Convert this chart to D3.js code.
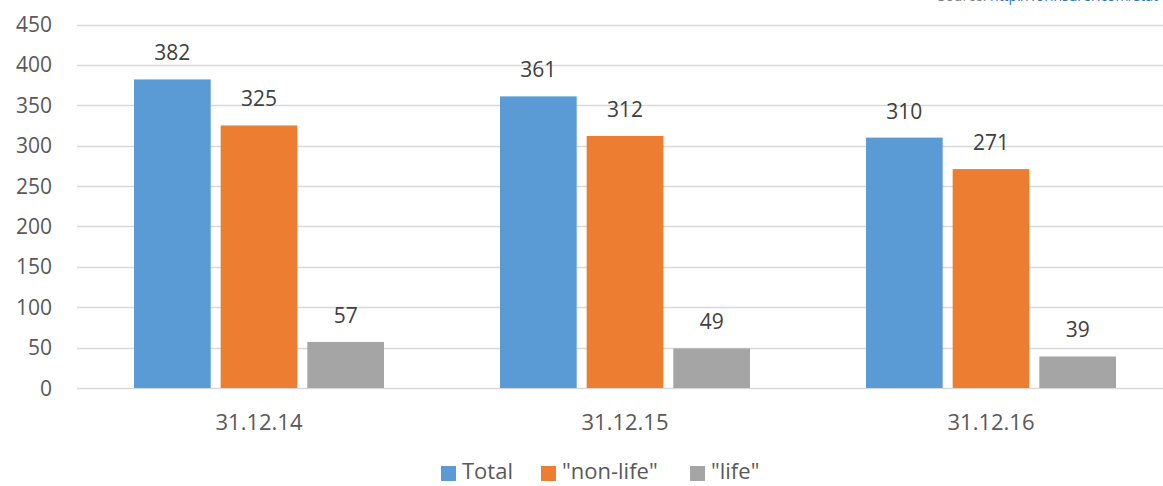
<!DOCTYPE html>
<html>
<head>
    <meta charset="UTF-8">
    <title>Insurers</title>
    <script src="https://d3js.org/d3.v7.min.js"></script>
    <style>
        body { margin: 0; background: #fff; }
        svg { display: block; font-family: "Open Sans", sans-serif; }
        .grid line { stroke: #d9d9d9; stroke-width: 1.3px; }
        .axis-label { font-size: 21px; fill: #595959; }
        .x-label { font-size: 22px; fill: #595959; }
        .value-label { font-size: 21px; fill: #404040; }
        .legend text { font-size: 22px; fill: #595959; }
    </style>
</head>
<body>
<div id="chart"></div>
<script>
    // данные
    const categories = ["31.12.14", "31.12.15", "31.12.16"];
    const seriesNames = ["Total", "\"non-life\"", "\"life\""];
    const totalValues = [382, 361, 310];
    const nonLifeValues = [325, 312, 271];
    const lifeValues = [57, 49, 39];
    const yTicks = [0, 50, 100, 150, 200, 250, 300, 350, 400, 450];
    const colors = ["#5b9bd5", "#ed7d31", "#a5a5a5"];

    const width = 1163, height = 486;
    const series = [totalValues, nonLifeValues, lifeValues];

    const svg = d3.select("#chart").append("svg")
        .attr("width", width)
        .attr("height", height);

    const x0 = d3.scaleBand()
        .domain(categories)
        .range([76, 1174])
        .paddingInner(0)
        .paddingOuter(0);

    const x1 = d3.scaleBand()
        .domain(d3.range(seriesNames.length))
        .range([58, x0.bandwidth() - 58])
        .paddingInner(0.115);

    const y = d3.scaleLinear()
        .domain([0, 450])
        .range([388, 24.5]);

    // сетка
    svg.append("g").attr("class", "grid")
        .selectAll("line")
        .data(yTicks)
        .join("line")
        .attr("x1", 77)
        .attr("x2", width)
        .attr("y1", d => Math.round(y(d)) + 0.5)
        .attr("y2", d => Math.round(y(d)) + 0.5);

    // подписи оси Y
    svg.append("g")
        .selectAll("text")
        .data(yTicks)
        .join("text")
        .attr("class", "axis-label")
        .attr("x", 52)
        .attr("y", d => y(d))
        .attr("dy", "0.36em")
        .attr("text-anchor", "end")
        .text(d => d);

    // столбцы
    const groups = svg.append("g")
        .selectAll("g")
        .data(categories)
        .join("g")
        .attr("transform", d => `translate(${x0(d)},0)`);

    groups.selectAll("rect")
        .data((d, i) => series.map((s, k) => ({k, v: s[i]})))
        .join("rect")
        .attr("x", d => x1(d.k))
        .attr("width", x1.bandwidth())
        .attr("y", d => y(d.v))
        .attr("height", d => y(0) - y(d.v))
        .attr("fill", d => colors[d.k]);

    groups.selectAll("text.value-label")
        .data((d, i) => series.map((s, k) => ({k, v: s[i]})))
        .join("text")
        .attr("class", "value-label")
        .attr("x", d => x1(d.k) + x1.bandwidth() / 2)
        .attr("y", d => y(d.v) - 19)
        .attr("text-anchor", "middle")
        .text(d => d.v);

    // подписи оси X
    svg.append("g")
        .selectAll("text")
        .data(categories)
        .join("text")
        .attr("class", "x-label")
        .attr("x", d => x0(d) + x0.bandwidth() / 2)
        .attr("y", 430)
        .attr("text-anchor", "middle")
        .text(d => d);

    // легенда
    const legendX = [441, 541, 690];
    const legend = svg.append("g").attr("class", "legend")
        .selectAll("g")
        .data(seriesNames)
        .join("g")
        .attr("transform", (d, i) => `translate(${legendX[i]},0)`);

    legend.append("rect")
        .attr("y", 466)
        .attr("width", 15)
        .attr("height", 15)
        .attr("fill", (d, i) => colors[i]);

    legend.append("text")
        .attr("x", 21)
        .attr("y", 479)
        .text(d => d);

    // источник (обрезан сверху)
    const src = svg.append("text")
        .attr("x", 1158)
        .attr("y", 1)
        .attr("text-anchor", "end")
        .style("font-size", "14px");
    src.append("tspan").attr("fill", "#7f7f7f").text("Source: ");
    src.append("tspan").attr("fill", "#2e75b6").text("http://forinsurer.com/stat");
</script>
</body>
</html>
